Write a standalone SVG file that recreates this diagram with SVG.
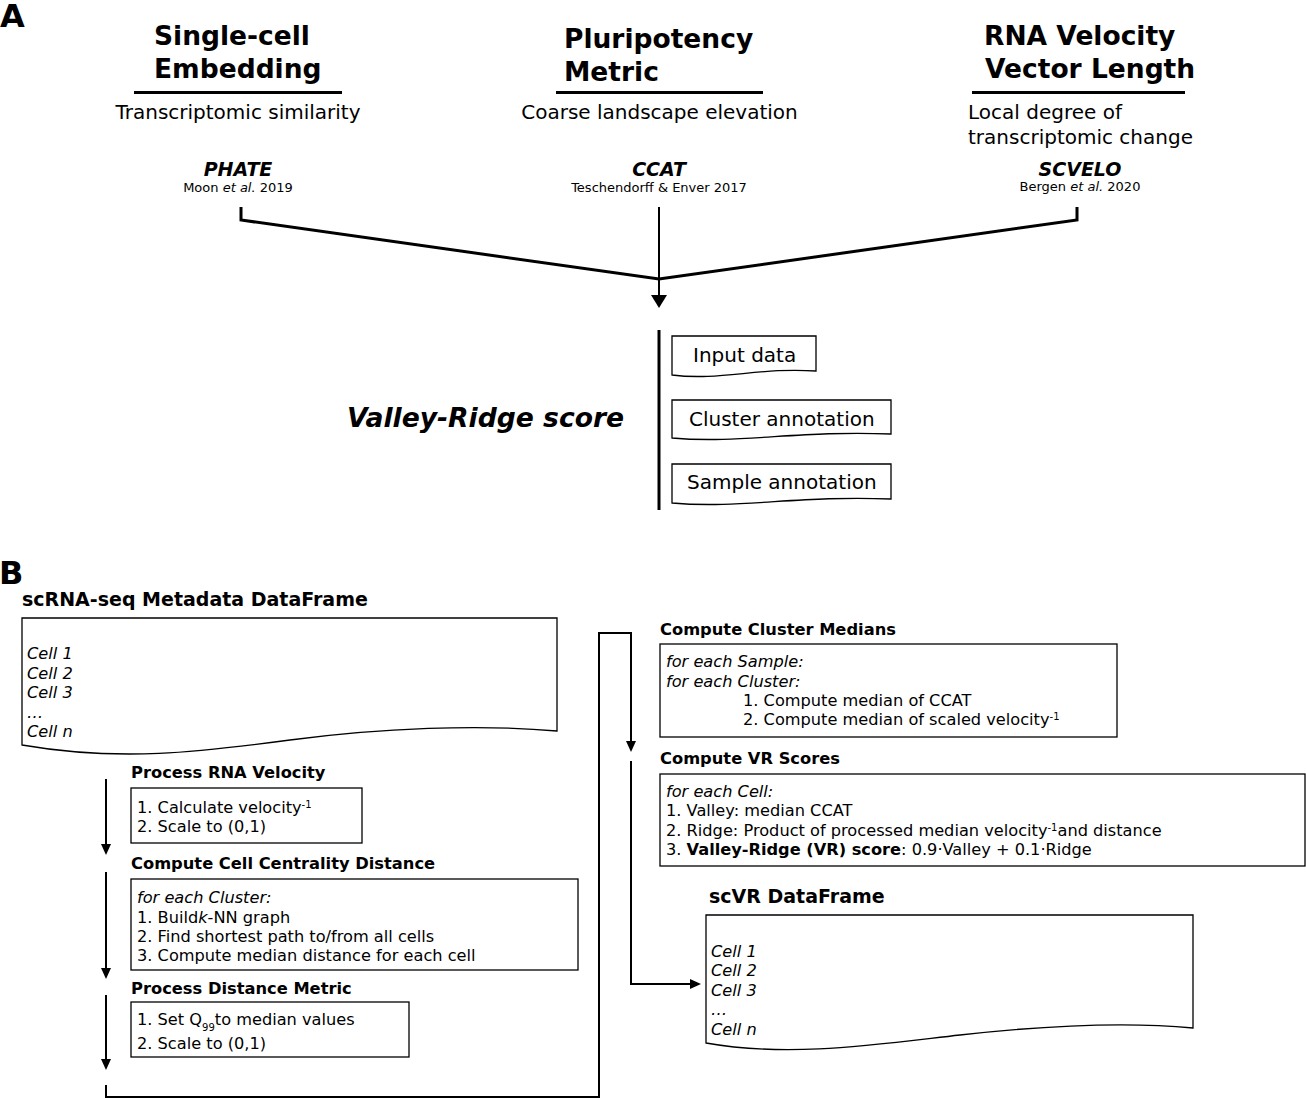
<svg xmlns="http://www.w3.org/2000/svg" width="1306" height="1098" viewBox="0 0 1306 1098">
<style>
text{font-family:"DejaVu Sans","Liberation Sans",sans-serif;fill:#000}
.lbl{font-size:32px;font-weight:bold}
.h1{font-size:26.5px;font-weight:bold}
.sub{font-size:20px}
.tool{font-size:19px;font-weight:bold;font-style:italic;text-anchor:middle}
.ref{font-size:13px;text-anchor:middle}
.h2{font-size:19px;font-weight:bold}
.h3{font-size:16.3px;font-weight:bold}
.body{font-size:16.2px}
.it{font-style:italic}
.b{font-weight:bold}
.sup{font-size:10px}
.box{fill:#fff;stroke:#000;stroke-width:1.3}
.ul{stroke:#000;stroke-width:3}
.thick{fill:none;stroke:#000;stroke-width:3;stroke-linejoin:miter}
.thin{fill:none;stroke:#000;stroke-width:2;stroke-linejoin:miter}
</style>
<defs>
<marker id="bigArrow" markerUnits="userSpaceOnUse" markerWidth="13" markerHeight="16" refX="5" refY="8" orient="auto" viewBox="0 0 13 16">
<path d="M0,0 L13,8 L0,16 Z" fill="#000"/>
</marker>
<marker id="arrow" markerUnits="userSpaceOnUse" markerWidth="11" markerHeight="10" refX="5" refY="5" orient="auto" viewBox="0 0 11 10">
<path d="M0,0 L11,5 L0,10 Z" fill="#000"/>
</marker>
</defs>

<text class="lbl" x="0" y="27">A</text>
<text class="lbl" x="-1" y="584">B</text>

<g id="embedding">
<text class="h1" x="154" y="45">Single-cell</text>
<text class="h1" x="154" y="78">Embedding</text>
<line class="ul" x1="134" y1="92.5" x2="342" y2="92.5"/>
<text class="sub" x="238" y="119" text-anchor="middle">Transcriptomic similarity</text>
<text class="tool" x="238" y="176">PHATE</text>
<text class="ref" x="238" y="192">Moon <tspan class="it">et al.</tspan> 2019</text>
</g>

<g id="pluripotency">
<text class="h1" x="564" y="48">Pluripotency</text>
<text class="h1" x="564" y="81">Metric</text>
<line class="ul" x1="556" y1="92.5" x2="763" y2="92.5"/>
<text class="sub" x="659.5" y="119" text-anchor="middle">Coarse landscape elevation</text>
<text class="tool" x="659" y="176">CCAT</text>
<text class="ref" x="659" y="192">Teschendorff &amp; Enver 2017</text>
</g>

<g id="velocity">
<text class="h1" x="984" y="45">RNA Velocity</text>
<text class="h1" x="985" y="78">Vector Length</text>
<line class="ul" x1="972" y1="92.5" x2="1185" y2="92.5"/>
<text class="sub" x="968" y="119">Local degree of</text>
<text class="sub" x="968" y="144">transcriptomic change</text>
<text class="tool" x="1080" y="176">SCVELO</text>
<text class="ref" x="1080" y="191">Bergen <tspan class="it">et al.</tspan> 2020</text>
</g>

<g id="vrscore">
<text x="347" y="427" style="font-size:26.6px;font-weight:bold;font-style:italic">Valley-Ridge score</text>
<line x1="659" y1="330" x2="659" y2="510" stroke="#000" stroke-width="3"/>
</g>

<g id="input-data">
<path class="box" d="M672,336 H816 V371 C760,367 720,381 672,375 Z"/>
<text class="sub" x="693" y="362">Input data</text>
</g>
<g id="cluster-annotation">
<path class="box" d="M672,400 H891 V434 C800,430 740,444 672,438 Z"/>
<text class="sub" x="689" y="425.5">Cluster annotation</text>
</g>
<g id="sample-annotation">
<path class="box" d="M672,464 H891 V499 C800,495 740,509 672,503 Z"/>
<text class="sub" x="687" y="488.5">Sample annotation</text>
</g>

<g id="metadata-df">
<text class="h2" x="22" y="606">scRNA-seq Metadata DataFrame</text>
<path class="box" d="M22,618 H557 V731 C480,724 380,728 290,740 C200,752 120,762 22,745 Z"/>
<text class="body it" x="27" y="659">Cell 1</text>
<text class="body it" x="27" y="678.5">Cell 2</text>
<text class="body it" x="27" y="698">Cell 3</text>
<text class="body it" x="27" y="717.5">…</text>
<text class="body it" x="27" y="737">Cell n</text>
</g>

<g id="process-velocity">
<text class="h3" x="131" y="778">Process RNA Velocity</text>
<rect class="box" x="131" y="788" width="231" height="55"/>
<text class="body" x="137" y="812.5">1. Calculate velocity<tspan class="sup" baseline-shift="super">-1</tspan></text>
<text class="body" x="137" y="832">2. Scale to (0,1)</text>
</g>

<g id="centrality-distance">
<text class="h3" x="131" y="868.5">Compute Cell Centrality Distance</text>
<rect class="box" x="131" y="879" width="447" height="91"/>
<text class="body it" x="137" y="903">for each Cluster:</text>
<text class="body" x="137" y="922.5">1. Build<tspan class="it">k</tspan>-NN graph</text>
<text class="body" x="137" y="941.5">2. Find shortest path to/from all cells</text>
<text class="body" x="137" y="961">3. Compute median distance for each cell</text>
</g>

<g id="distance-metric">
<text class="h3" x="131" y="993.5">Process Distance Metric</text>
<rect class="box" x="131" y="1002" width="278" height="55"/>
<text class="body" x="137" y="1025">1. Set Q<tspan class="sup" baseline-shift="sub">99</tspan>to median values</text>
<text class="body" x="137" y="1049">2. Scale to (0,1)</text>
</g>

<g id="cluster-medians">
<text class="h3" x="660" y="634.5">Compute Cluster Medians</text>
<rect class="box" x="660" y="644" width="457" height="93"/>
<text class="body it" x="666" y="667">for each Sample:</text>
<text class="body it" x="666" y="686.5">for each Cluster:</text>
<text class="body" x="743" y="706">1. Compute median of CCAT</text>
<text class="body" x="743" y="725">2. Compute median of scaled velocity<tspan class="sup" baseline-shift="super">-1</tspan></text>
</g>

<g id="vr-scores">
<text class="h3" x="660" y="764">Compute VR Scores</text>
<rect class="box" x="660" y="774" width="645" height="92"/>
<text class="body it" x="666" y="797">for each Cell:</text>
<text class="body" x="666" y="816">1. Valley: median CCAT</text>
<text class="body" x="666" y="835.5">2. Ridge: Product of processed median velocity<tspan class="sup" baseline-shift="super">-1</tspan>and distance</text>
<text class="body" x="666" y="855">3. <tspan class="b">Valley-Ridge (VR) score</tspan>: 0.9·Valley + 0.1·Ridge</text>
</g>

<g id="scvr-df">
<text class="h2" x="709" y="903">scVR DataFrame</text>
<path class="box" d="M706,915 H1193 V1028 C1120,1021 1040,1026 960,1035 C880,1044 790,1058 706,1043 Z"/>
<text class="body it" x="711" y="957">Cell 1</text>
<text class="body it" x="711" y="976">Cell 2</text>
<text class="body it" x="711" y="996">Cell 3</text>
<text class="body it" x="711" y="1015">…</text>
<text class="body it" x="711" y="1034.5">Cell n</text>
</g>

<g id="connectors">
<polyline class="thick" points="241,207 241,220 659,279 1077,220 1077,207"/>
<line x1="659" y1="207" x2="659" y2="300" stroke="#000" stroke-width="2" marker-end="url(#bigArrow)"/>
<line class="thin" x1="106" y1="779" x2="106" y2="849" marker-end="url(#arrow)"/>
<line class="thin" x1="106" y1="872" x2="106" y2="973" marker-end="url(#arrow)"/>
<line class="thin" x1="106" y1="995" x2="106" y2="1064" marker-end="url(#arrow)"/>
<polyline class="thin" points="106,1085 106,1097 599,1097 599,633 631,633 631,746" marker-end="url(#arrow)"/>
<polyline class="thin" points="631,761 631,984 695,984" marker-end="url(#arrow)"/>
</g>
</svg>
